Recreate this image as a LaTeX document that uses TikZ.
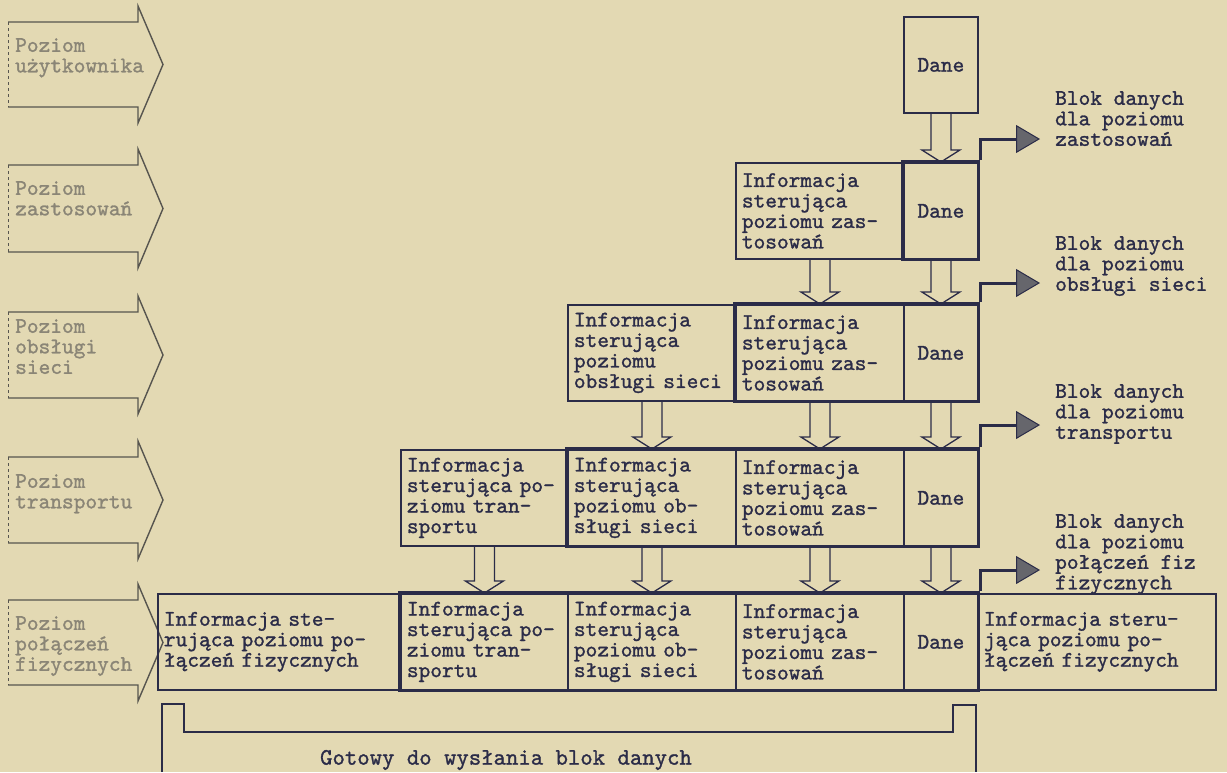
\documentclass[tikz,border=0pt]{standalone}
\usepackage{fontspec}
\usetikzlibrary{arrows.meta,calc,fit}
\definecolor{Paper}{HTML}{E3D9B3}
\definecolor{Ink}{HTML}{2B2C48}
\definecolor{Faded}{HTML}{8A8576}
\definecolor{Rule}{HTML}{57554F}
\definecolor{TipGray}{HTML}{66666C}
\newfontfamily\typeface{lmmono10-regular}[Extension=.otf,FakeBold=1.2]
\newcommand\typer{\typeface\fontsize{22.3}{20.5}\selectfont\lineskiplimit=-30pt\relax}

\begin{document}
\begin{tikzpicture}[x=1pt,y=-1pt,
  every node/.style={font=\typer,text=Ink},
  cell/.style={draw=Ink,line width=1.8pt,anchor=north west,align=left,inner xsep=6pt,inner ysep=0pt,minimum height=96pt,text width=#1},
  dane/.style={cell=#1,align=center},
  block/.style={draw=Ink,line width=3.2pt,inner sep=0pt},
  hollow/.style={draw=Ink,line width=1.3pt,to path={
    ($(\tikztostart)+(-10,0)$) -- ($(\tikztostart |- \tikztotarget)+(-10,-12)$) -- ++(-9,0)
    -- (\tikztostart |- \tikztotarget) -- ++(19,-12) -- ++(-9,0) -- ($(\tikztostart)+(10,0)$)}},
  outflow/.style={draw=Ink,line width=3pt,line join=miter,-{Triangle[length=24pt,width=28pt,fill=TipGray,line width=1pt]}},
  levelarrow/.style={draw=Rule,line width=1.4pt},
  levellabel/.style={anchor=north west,align=left,inner sep=0pt,text=Faded},
  note/.style={anchor=north west,align=left,inner sep=0pt}]
\useasboundingbox (0,0) rectangle (1227,772);
\fill[Paper] (0,0) rectangle (1227,772);

% levels on the left
\foreach \yt/\yb in {22/107,165/252,312/398,457/543,600/685}{
  \draw[levelarrow] (8,\yt) -- (138,\yt) -- (138,\yt-16) -- (163,{(\yt+\yb)/2}) -- (138,\yb+16) -- (138,\yb) -- (8,\yb);
  \draw[levelarrow,dashed,line width=0.8pt] (8,\yt) -- (8,\yb);
}
\node[levellabel] (lv1) at (15,38) {Poziom\\użytkownika};
\node[levellabel] (lv2) at (15,181) {Poziom\\zastosowań};
\node[levellabel] (lv3) at (15,319) {Poziom\\obsługi\\sieci};
\node[levellabel] (lv4) at (15,474) {Poziom\\transportu};
\node[levellabel] (lv5) at (15,616) {Poziom\\połączeń\\fizycznych};

% rows
\node[dane=62pt] (r1d) at (903,16) {Dane};

\node[cell=156pt] (r2z) at (735,162) {Informacja\\sterująca\\poziomu zas-\\tosowań};
\node[dane=62pt] (r2d) at (903,162) {Dane};

\node[cell=156pt] (r3o) at (567,304) {Informacja\\sterująca\\poziomu\\obsługi sieci};
\node[cell=156pt] (r3z) at (735,304) {Informacja\\sterująca\\poziomu zas-\\tosowań};
\node[dane=62pt] (r3d) at (903,304) {Dane};

\node[cell=155pt] (r4t) at (400,449) {Informacja\\sterująca po-\\ziomu tran-\\sportu};
\node[cell=156pt] (r4o) at (567,449) {Informacja\\sterująca\\poziomu ob-\\sługi sieci};
\node[cell=156pt] (r4z) at (735,449) {Informacja\\sterująca\\poziomu zas-\\tosowań};
\node[dane=62pt] (r4d) at (903,449) {Dane};

\node[cell=231pt] (r5f) at (157,593) {Informacja ste-\\rująca poziomu po-\\łączeń fizycznych};
\node[cell=155pt] (r5t) at (400,593) {Informacja\\sterująca po-\\ziomu tran-\\sportu};
\node[cell=156pt] (r5o) at (567,593) {Informacja\\sterująca\\poziomu ob-\\sługi sieci};
\node[cell=156pt] (r5z) at (735,593) {Informacja\\sterująca\\poziomu zas-\\tosowań};
\node[dane=62pt] (r5d) at (903,593) {Dane};
\node[cell=226pt] (r5p) at (977,593) {Informacja steru-\\jąca poziomu po-\\łączeń fizycznych};

% blocks passed down
\node[block,fit=(r2d)] (b2) {};
\node[block,fit=(r3z)(r3d)] (b3) {};
\node[block,fit=(r4o)(r4d)] (b4) {};
\node[block,fit=(r5t)(r5d)] (b5) {};

\foreach \a/\b in {r1d/r2d,r2z/r3z,r2d/r3d,r3o/r4o,r3z/r4z,r3d/r4d,r4t/r5t,r4o/r5o,r4z/r5z,r4d/r5d}
  \draw[hollow] (\a.south) to (\b.north);

% data blocks for each level
\coordinate (tip2) at (1040,139);
\coordinate (tip3) at (1040,283);
\coordinate (tip4) at (1040,425);
\coordinate (tip5) at (1040,570);
\draw[outflow] (b2.north east) |- (tip2);
\draw[outflow] (b3.north east) |- (tip3);
\draw[outflow] (b4.north east) |- (tip4);
\draw[outflow] (b5.north east) |- (tip5);
\node[note] (blk2) at (1055,91) {Blok danych\\dla poziomu\\zastosowań};
\node[note] (blk3) at (1055,236) {Blok danych\\dla poziomu\\obsługi sieci};
\node[note] (blk4) at (1055,384) {Blok danych\\dla poziomu\\transportu};
\node[note] (blk5) at (1055,514) {Blok danych\\dla poziomu\\połączeń fiz\\fizycznych};

% ready frame
\draw[draw=Ink,line width=1.8pt] (162,772) -- (162,704) -- (184,704) -- (184,732) -- (953,732) -- (953,705) -- (976,705) -- (976,772);
\node[font=\typeface\fontsize{23.6}{24}\selectfont] (ready) at (506,760) {Gotowy do wysłania blok danych};
\end{tikzpicture}
\end{document}
